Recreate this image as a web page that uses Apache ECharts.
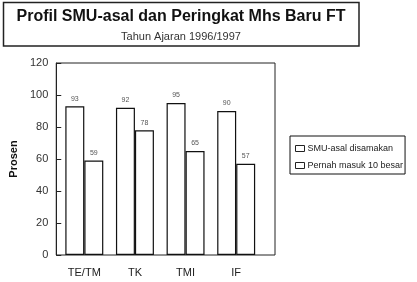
<!DOCTYPE html>
<html>
<head>
<meta charset="utf-8">
<script src="https://cdn.jsdelivr.net/npm/echarts@6/dist/echarts.min.js"></script>
<style>html,body{margin:0;padding:0;background:#fff;}#c{width:417px;height:282px;}</style>
</head>
<body>
<div id="c"></div>
<script>
const categories = ['TE/TM', 'TK', 'TMI', 'IF'];
const smuAsal = [93, 92, 95, 90];
const pernahMasuk = [59, 78, 65, 57];
const seriesNames = ['SMU-asal disamakan', 'Pernah masuk 10 besar'];
const yTicks = { min: 0, max: 120, interval: 20 };

const font = 'Liberation Sans, Arial, sans-serif';
const chart = echarts.init(document.getElementById('c'), null, { renderer: 'canvas' });
const barStyle = { color: '#fff', borderColor: '#111', borderWidth: 1.2 };
const labelStyle = { show: true, position: 'top', distance: 4, fontSize: 7, color: '#555', fontFamily: font };

chart.setOption({
  backgroundColor: '#fff',
  animation: false,
  textStyle: { fontFamily: font },
  graphic: [{
    type: 'rect', shape: { x: 3.5, y: 2.5, width: 355.5, height: 43.5 },
    style: { fill: 'none', stroke: '#222', lineWidth: 1.5 }, z: 10
  }],
  title: {
    text: 'Profil SMU-asal dan Peringkat Mhs Baru FT',
    subtext: 'Tahun Ajaran 1996/1997',
    left: 181, top: 9, padding: 0, itemGap: 6,
    textAlign: 'center',
    textStyle: { fontSize: 16, fontWeight: 'bold', color: '#111', fontFamily: font },
    subtextStyle: { fontSize: 11, color: '#333', fontFamily: font }
  },
  legend: {
    orient: 'vertical', left: 290, top: 136,
    data: seriesNames,
    itemWidth: 9, itemHeight: 6, itemGap: 8,
    padding: [8, 2, 4, 5],
    borderColor: '#111', borderWidth: 1,
    icon: 'rect',
    itemStyle: { color: '#fff', borderColor: '#222', borderWidth: 1 },
    textStyle: { fontSize: 9, color: '#222', fontFamily: font, padding: [0, 0, 0, -2] }
  },
  grid: [
    { left: 47, top: 63, width: 228, height: 192, show: true, borderColor: '#222', borderWidth: 1, backgroundColor: 'transparent' },
    { left: 59, top: 63, width: 202.5, height: 192 }
  ],
  xAxis: [
    { type: 'value', gridIndex: 0, show: false, min: 0, max: 1 },
    {
      type: 'category', gridIndex: 1, data: categories,
      axisLine: { show: false }, axisTick: { show: false },
      axisLabel: { fontSize: 11, color: '#222', margin: 12, fontFamily: font }
    }
  ],
  yAxis: [
    {
      type: 'value', gridIndex: 0, min: yTicks.min, max: yTicks.max, interval: yTicks.interval,
      name: 'Prosen', nameLocation: 'middle', nameGap: 36, nameRotate: 90,
      nameTextStyle: { fontSize: 11, fontWeight: 'bold', color: '#111', fontFamily: font },
      axisLine: { show: true, lineStyle: { color: '#222' } },
      axisTick: { show: true, inside: true, length: 5, lineStyle: { color: '#222' } },
      axisLabel: { fontSize: 11, color: '#333', margin: 8, fontFamily: font },
      splitLine: { show: false }
    },
    { type: 'value', gridIndex: 1, min: yTicks.min, max: yTicks.max, show: false, splitLine: { show: false } }
  ],
  series: [
    {
      name: seriesNames[0], type: 'bar', xAxisIndex: 1, yAxisIndex: 1,
      data: smuAsal, barGap: '0%', barCategoryGap: '25%',
      itemStyle: barStyle, label: labelStyle
    },
    {
      name: seriesNames[1], type: 'bar', xAxisIndex: 1, yAxisIndex: 1,
      data: pernahMasuk, barGap: '0%', barCategoryGap: '25%',
      itemStyle: barStyle, label: labelStyle
    }
  ]
});
</script>
</body>
</html>
